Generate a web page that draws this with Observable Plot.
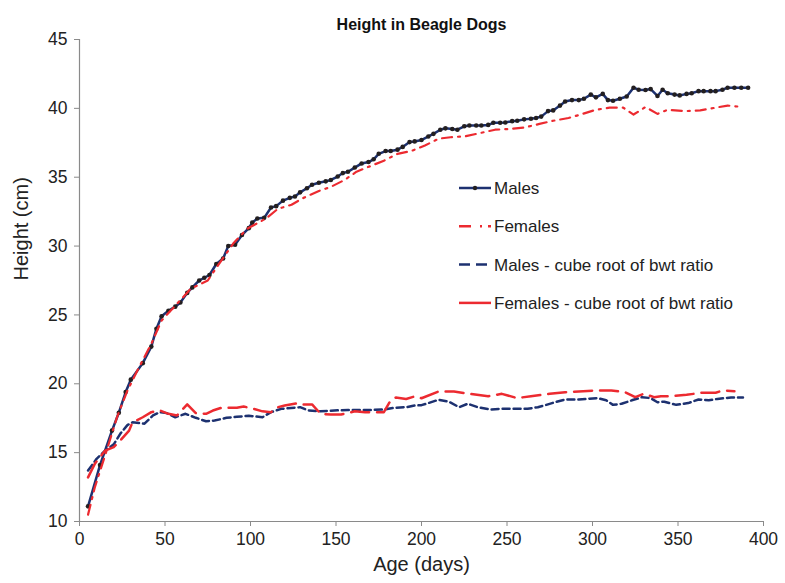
<!DOCTYPE html>
<html><head><meta charset="utf-8">
<script src="https://cdn.jsdelivr.net/npm/d3@7"></script>
<script src="https://cdn.jsdelivr.net/npm/@observablehq/plot@0.6"></script>
<style>
body{margin:0;background:#fff}
#chart{position:relative;width:785px;height:583px;font-family:"Liberation Sans",Arial,sans-serif}
#legend{position:absolute;left:0;top:0}
</style>
</head><body><div id="chart"></div>
<script>
const title = "Height in Beagle Dogs";
const xLabel = "Age (days)";
const yLabel = "Height (cm)";
const xTicks = [0, 50, 100, 150, 200, 250, 300, 350, 400];
const yTicks = [10, 15, 20, 25, 30, 35, 40, 45];
const seriesNames = ["Males", "Females", "Males - cube root of bwt ratio", "Females - cube root of bwt ratio"];

const maleDays = [5,12,19,23,27,30,37,42,45,48,52,56,59,63,66,70,73,76,80,84,87,91,95,99,
 101,104,108,112,115,119,123,126,129,133,136,140,144,147,151,154,157,161,165,169,172,175,179,182,186,189,193,196,200,204,207,211,214,
 218,221,225,228,232,235,239,242,246,249,253,256,260,264,267,270,274,277,281,284,288,292,295,299,302,306,309,312,316,320,324,327,331,334,338,341,344,348,351,355,358,362,365,369,372,376,379,383,387,391];
const maleHeights = [11.1,14.1,16.6,17.9,19.4,20.3,21.5,22.7,24.0,24.9,25.3,25.6,25.9,26.6,27.0,27.5,27.7,27.9,28.7,29.1,30.0,30.1,30.8,31.3,
 31.7,32.0,32.05,32.8,32.9,33.3,33.5,33.6,33.9,34.2,34.45,34.6,34.7,34.8,35.05,35.3,35.4,35.7,36.0,36.1,36.3,36.7,36.9,36.9,37.0,37.2,37.55,37.6,37.7,37.96,38.15,38.45,38.55,
 38.5,38.45,38.7,38.76,38.76,38.76,38.8,38.95,38.95,38.97,39.07,39.1,39.2,39.25,39.3,39.4,39.8,39.85,40.2,40.5,40.6,40.6,40.7,41.0,40.8,41.05,40.6,40.55,40.7,40.86,41.5,41.35,41.33,41.4,40.9,41.35,41.1,41.0,40.94,41.05,41.1,41.25,41.25,41.25,41.25,41.35,41.5,41.5,41.5,41.5];

const femaleDays = [5,9,16,22,28,34,42,48,57,65,75,81,90,98,109,116,124,131,140,147,155,162,170,178,186,194,202,210,217,226,234,243,251,260,269,277,286,293,302,310,318,324,331,338,344,354,363,372,379,388];
const femaleHeights = [10.5,12.5,15.2,17.6,19.5,21.0,22.9,24.6,25.8,26.9,27.5,28.6,30.2,31.25,32.0,32.7,33.0,33.5,34.0,34.3,34.8,35.4,35.8,36.2,36.7,36.9,37.3,37.8,37.9,37.98,38.2,38.45,38.5,38.6,38.87,39.1,39.3,39.55,39.9,40.05,40.05,39.55,40.1,39.6,39.9,39.8,39.85,40.05,40.2,40.1];

const maleCubeDays = [5,10,15,20,24,28,31,38,43,47,51,56,62,68,74,79,86,92,99,107,112,118,126,129,134,141,149,157,165,170,178,184,191,196,200,204,210,216,222,227,233,240,247,254,262,268,273,278,284,292,297,303,308,312,317,323,329,334,338,342,349,356,362,368,373,381,388];
const maleCubeHeights = [13.7,14.55,15.15,15.6,16.4,17.0,17.2,17.1,17.7,17.94,17.87,17.57,17.82,17.53,17.28,17.33,17.53,17.6,17.68,17.57,17.94,18.18,18.26,18.3,18.06,18.0,18.06,18.1,18.1,18.1,18.13,18.26,18.3,18.42,18.45,18.6,18.84,18.7,18.3,18.55,18.3,18.13,18.18,18.18,18.18,18.3,18.47,18.66,18.86,18.86,18.9,18.96,18.8,18.47,18.55,18.8,19.03,18.96,18.66,18.7,18.47,18.6,18.86,18.8,18.9,19.0,19.0];

const femaleCubeDays = [5,9,15,20,24,29,31,37,42,47,52,57,63,68,74,78,83,92,96,102,107,112,116,120,128,131,136,141,147,153,161,167,178,182,185,191,196,200,210,219,228,239,247,256,264,275,284,292,301,311,319,325,330,336,340,346,355,364,372,376,383];
const femaleCubeHeights = [13.2,14.2,15.15,15.4,15.9,16.6,17.2,17.57,17.94,18.06,17.82,17.7,18.5,17.87,17.82,18.06,18.26,18.26,18.35,18.18,18.0,17.94,18.3,18.42,18.6,18.5,18.5,17.82,17.77,17.77,18.0,17.94,17.94,18.8,19.0,18.9,19.08,18.95,19.44,19.44,19.27,19.1,19.27,18.96,19.1,19.27,19.39,19.44,19.51,19.51,19.39,19.03,19.27,19.03,19.1,19.1,19.2,19.35,19.35,19.51,19.46];

const NAVY = "#1d3170", RED = "#ec2a30", DOT = "#231f20";
const styles = [
  {stroke: NAVY, dash: null, width: 2.5},
  {stroke: RED, dash: "10,6,2,6", width: 2.2},
  {stroke: NAVY, dash: "7,4", width: 2.5},
  {stroke: RED, dash: "18,8", width: 2.5}
];
const zip = (xs, ys) => xs.map((x, i) => ({day: x, h: ys[i]}));
const males = zip(maleDays, maleHeights);
const females = zip(femaleDays, femaleHeights);
const maleCube = zip(maleCubeDays, maleCubeHeights);
const femaleCube = zip(femaleCubeDays, femaleCubeHeights);

const chart = Plot.plot({
  width: 785, height: 583,
  marginLeft: 79, marginRight: 22, marginTop: 39, marginBottom: 62,
  x: {domain: [0, 400]},
  y: {domain: [10, 45]},
  style: {fontFamily: "'Liberation Sans', Arial, sans-serif", fontSize: "17.5px", background: "#fff", overflow: "visible"},
  marks: [
    Plot.ruleX([0], {stroke: "#8a8a8a", strokeWidth: 1.2}),
    Plot.ruleY([10], {stroke: "#8a8a8a", strokeWidth: 1.2}),
    Plot.axisX({ticks: xTicks, tickSize: 5, tickPadding: 6, stroke: "#8a8a8a", fill: "#222", label: null}),
    Plot.axisY({ticks: yTicks, tickSize: 5, tickPadding: 7, stroke: "#8a8a8a", fill: "#222", label: null}),
    Plot.line(males, {x: "day", y: "h", stroke: styles[0].stroke, strokeWidth: styles[0].width}),
    Plot.dot(males, {x: "day", y: "h", r: 2.3, fill: DOT, stroke: "none"}),
    Plot.line(females, {x: "day", y: "h", stroke: styles[1].stroke, strokeWidth: styles[1].width, strokeDasharray: styles[1].dash}),
    Plot.line(maleCube, {x: "day", y: "h", stroke: styles[2].stroke, strokeWidth: styles[2].width, strokeDasharray: styles[2].dash}),
    Plot.line(femaleCube, {x: "day", y: "h", stroke: styles[3].stroke, strokeWidth: styles[3].width, strokeDasharray: styles[3].dash}),
    Plot.text([title], {text: d => d, frameAnchor: "top", dy: -21, fontWeight: "bold", fontSize: 16, fill: "#111"}),
    Plot.text([xLabel], {text: d => d, frameAnchor: "bottom", dy: 49, fontSize: 20, fill: "#222"}),
    Plot.text([yLabel], {text: d => d, frameAnchor: "left", dx: -58, rotate: -90, fontSize: 20, fill: "#222"})
  ]
});
const root = document.getElementById("chart");
root.appendChild(chart);

// legend (inside plot area, as in the reference)
const legendStyles = [
  {stroke: NAVY, dash: null, dot: true},
  {stroke: RED, dash: "12,9,2,6", dot: false},
  {stroke: NAVY, dash: "11,6", dot: false},
  {stroke: RED, dash: null, dot: false}
];
const lg = d3.select(root).append("svg").attr("id", "legend").attr("width", 785).attr("height", 583);
const rows = lg.selectAll("g").data(seriesNames).join("g")
  .attr("transform", (d, i) => `translate(459,${188 + i * 38.3})`);
rows.append("line").attr("x1", 0).attr("x2", 32).attr("y1", 0).attr("y2", 0)
  .attr("stroke", (d, i) => legendStyles[i].stroke).attr("stroke-width", 2.5)
  .attr("stroke-dasharray", (d, i) => legendStyles[i].dash);
rows.filter((d, i) => legendStyles[i].dot).append("circle").attr("cx", 16).attr("cy", 0).attr("r", 2.2).attr("fill", DOT);
rows.append("text").attr("x", 35).attr("y", 0).attr("dy", "0.35em")
  .attr("font-size", 17).attr("fill", "#222").attr("font-family", "'Liberation Sans', Arial, sans-serif")
  .text(d => d);
</script></body></html>
